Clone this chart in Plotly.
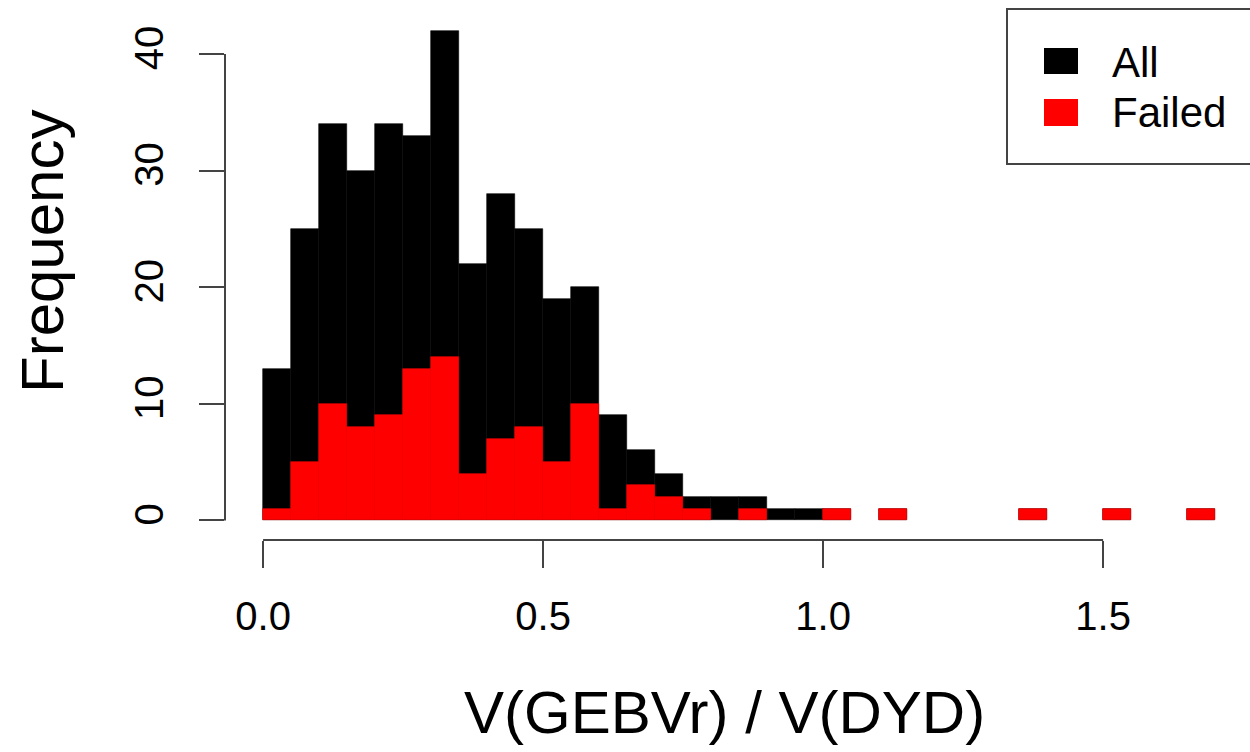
import plotly.graph_objects as go

# ---- data ----
bin_start = 0.0
bin_width = 0.05
all_counts = [13, 25, 34, 30, 34, 33, 42, 22, 28, 25, 19, 20, 9, 6, 4, 2, 2, 2, 1, 1,
              1, 0, 1, 0, 0, 0, 0, 1, 0, 0, 1, 0, 0, 1]
failed_counts = [1, 5, 10, 8, 9, 13, 14, 4, 7, 8, 5, 10, 1, 3, 2, 1, 0, 1, 0, 0,
                 1, 0, 1, 0, 0, 0, 0, 1, 0, 0, 1, 0, 0, 1]
x_ticks = [0.0, 0.5, 1.0, 1.5]
x_ticklabels = ["0.0", "0.5", "1.0", "1.5"]
y_ticks = [0, 10, 20, 30, 40]
y_ticklabels = ["0", "10", "20", "30", "40"]
series_names = ["All", "Failed"]
series_colors = ["#000000", "#ff0000"]

left_edges = [round(bin_start + i * bin_width, 4) for i in range(len(all_counts))]

W, H = 1250, 752
L, R, T, B = 225, 0, 11, 212
FONT = "Liberation Sans, Arial, Helvetica, sans-serif"

fig = go.Figure()
for name, counts, col in zip(series_names, [all_counts, failed_counts], series_colors):
    # empty bins are simply not drawn (as in R's hist)
    xs = [x for x, c in zip(left_edges, counts) if c > 0]
    ys = [c for c in counts if c > 0]
    fig.add_trace(go.Bar(
        x=xs, y=ys, width=bin_width, offset=0, name=name,
        marker=dict(color=col, line=dict(color=col, width=0.6)),
        showlegend=False,
    ))

# pixel -> paper helpers for non-data decorations
pw, ph = W - L - R, H - T - B
def px(xp):
    return (xp - L) / pw
def py(yp):
    return (H - B - yp) / ph

x_lo = -0.04 * 1.7
x_hi = x_lo + pw / 560.0

shapes = [
    # x axis line (R style: spans first to last tick)
    dict(type="line", xref="x", yref="paper", x0=x_ticks[0], x1=x_ticks[-1], y0=0, y1=0,
         line=dict(color="#444444", width=2)),
    # y axis line
    dict(type="line", xref="paper", yref="y", x0=0, x1=0, y0=y_ticks[0], y1=y_ticks[-1],
         line=dict(color="#444444", width=2)),
    # legend box
    dict(type="rect", xref="paper", yref="paper", x0=px(1007), x1=px(1262), y0=py(164), y1=py(9),
         line=dict(color="#444444", width=2), fillcolor="white", layer="above"),
    dict(type="rect", xref="paper", yref="paper", x0=px(1044), x1=px(1078), y0=py(74), y1=py(48),
         line=dict(width=0), fillcolor=series_colors[0], layer="above"),
    dict(type="rect", xref="paper", yref="paper", x0=px(1044), x1=px(1078), y0=py(126), y1=py(99),
         line=dict(width=0), fillcolor=series_colors[1], layer="above"),
]

annotations = [
    dict(text="V(GEBVr) / V(DYD)", xref="paper", yref="paper", x=px(724), y=py(712),
         xanchor="center", yanchor="middle", showarrow=False,
         font=dict(family=FONT, size=60, color="black")),
    dict(text="Frequency", xref="paper", yref="paper", x=px(42), y=py(252),
         xanchor="center", yanchor="middle", showarrow=False, textangle=-90,
         font=dict(family=FONT, size=60, color="black")),
    dict(text=series_names[0], xref="paper", yref="paper", x=px(1110), y=py(62),
         xanchor="left", yanchor="middle", showarrow=False,
         font=dict(family=FONT, size=42, color="black")),
    dict(text=series_names[1], xref="paper", yref="paper", x=px(1110), y=py(113),
         xanchor="left", yanchor="middle", showarrow=False,
         font=dict(family=FONT, size=42, color="black")),
]

fig.update_layout(
    width=W, height=H,
    margin=dict(l=L, r=R, t=T, b=B, pad=0),
    paper_bgcolor="white", plot_bgcolor="white",
    barmode="overlay", bargap=0,
    font=dict(family=FONT, color="black"),
    shapes=shapes, annotations=annotations,
    xaxis=dict(range=[x_lo, x_hi], tickvals=x_ticks, ticktext=x_ticklabels,
               ticks="outside", ticklen=27, tickwidth=2, tickcolor="#444444",
               showgrid=False, zeroline=False, showline=False,
               tickfont=dict(family=FONT, size=40, color="black"),
               ticklabelstandoff=14),
    yaxis=dict(range=[-1.68, 43.68], tickvals=y_ticks, ticktext=y_ticklabels,
               ticks="outside", ticklen=25, tickwidth=2, tickcolor="#444444",
               showgrid=False, zeroline=False, showline=False, tickangle=-90,
               tickfont=dict(family=FONT, size=40, color="black"),
               ticklabelstandoff=20),
)

fig.write_html("out.html")
